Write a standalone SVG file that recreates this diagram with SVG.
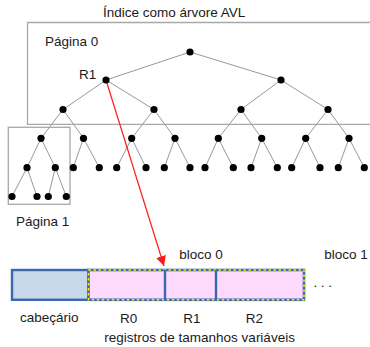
<svg xmlns="http://www.w3.org/2000/svg" width="370" height="347" viewBox="0 0 370 347">
<style>
text{font-family:"Liberation Sans",Arial,sans-serif;font-size:13.5px;fill:#1a1a1a}
.e{stroke:#999;stroke-width:1;fill:none}
.n{fill:#000}
.pg{stroke:#a8a8a8;stroke-width:1.3;fill:none}
.blk{stroke:#3a67ad;stroke-width:2.4}
</style>
<defs>
<marker id="ah" markerWidth="10" markerHeight="12" refX="10" refY="5" orient="auto" markerUnits="userSpaceOnUse" viewBox="0 0 10 10">
<path d="M0,0 L10,5 L0,10 Z" fill="#ff1a1a"/>
</marker>
</defs>
<rect width="370" height="347" fill="#fff"/>
<text x="103" y="17.3">Índice como árvore AVL</text>
<g id="pagina0">
<path class="pg" d="M372,22.5 H27.5 V124.3 H372"/>
<text x="45" y="46">Página 0</text>
</g>
<g id="pagina1">
<rect class="pg" x="8.3" y="127.3" width="61.7" height="77"/>
<text x="16" y="226">Página 1</text>
</g>
<g id="connectors">
<path class="e" d="M190,52 L106,80 M190,52 L281,80
M106,80 L63,109.5 M106,80 L154,109.5 M281,80 L241,109.5 M281,80 L328,109.5
M63,109.5 L41,138.3 M63,109.5 L83.5,138.3 M154,109.5 L131.7,138.3 M154,109.5 L175,138.3
M241,109.5 L218.3,138.3 M241,109.5 L261.7,138.3 M328,109.5 L305.7,138.3 M328,109.5 L349,138.3
M41,138.3 L27,167.7 M41,138.3 L55.3,167.7 M83.5,138.3 L73.3,167.7 M83.5,138.3 L99.3,167.7
M131.7,138.3 L116.7,167.7 M131.7,138.3 L146,167.7 M175,138.3 L164.3,167.7 M175,138.3 L190,167.7
M218.3,138.3 L205,167.7 M218.3,138.3 L233.3,167.7 M261.7,138.3 L251,167.7 M261.7,138.3 L277.3,167.7
M305.7,138.3 L291.7,167.7 M305.7,138.3 L320,167.7 M349,138.3 L338.3,167.7 M349,138.3 L364.3,167.7
M27,167.7 L12,196.5 M27,167.7 L37,196.5 M55.3,167.7 L48.3,196.5 M55.3,167.7 L66.3,196.5"/>
<line x1="106" y1="80" x2="164" y2="266" stroke="#ff1a1a" stroke-width="1.2" marker-end="url(#ah)"/>
</g>
<g id="nodes" class="n">
<circle cx="190" cy="52" r="3.6"/>
<circle cx="106" cy="80" r="3.6"/>
<circle cx="281" cy="80" r="3.6"/>
<circle cx="63" cy="109.5" r="3.6"/>
<circle cx="154" cy="109.5" r="3.6"/>
<circle cx="241" cy="109.5" r="3.6"/>
<circle cx="328" cy="109.5" r="3.6"/>
<circle cx="41" cy="138.3" r="3.6"/>
<circle cx="83.5" cy="138.3" r="3.6"/>
<circle cx="131.7" cy="138.3" r="3.6"/>
<circle cx="175" cy="138.3" r="3.6"/>
<circle cx="218.3" cy="138.3" r="3.6"/>
<circle cx="261.7" cy="138.3" r="3.6"/>
<circle cx="305.7" cy="138.3" r="3.6"/>
<circle cx="349" cy="138.3" r="3.6"/>
<circle cx="27" cy="167.7" r="3.6"/>
<circle cx="55.3" cy="167.7" r="3.6"/>
<circle cx="73.3" cy="167.7" r="3.6"/>
<circle cx="99.3" cy="167.7" r="3.6"/>
<circle cx="116.7" cy="167.7" r="3.6"/>
<circle cx="146" cy="167.7" r="3.6"/>
<circle cx="164.3" cy="167.7" r="3.6"/>
<circle cx="190" cy="167.7" r="3.6"/>
<circle cx="205" cy="167.7" r="3.6"/>
<circle cx="233.3" cy="167.7" r="3.6"/>
<circle cx="251" cy="167.7" r="3.6"/>
<circle cx="277.3" cy="167.7" r="3.6"/>
<circle cx="291.7" cy="167.7" r="3.6"/>
<circle cx="320" cy="167.7" r="3.6"/>
<circle cx="338.3" cy="167.7" r="3.6"/>
<circle cx="364.3" cy="167.7" r="3.6"/>
<circle cx="12" cy="196.5" r="3.6"/>
<circle cx="37" cy="196.5" r="3.6"/>
<circle cx="48.3" cy="196.5" r="3.6"/>
<circle cx="66.3" cy="196.5" r="3.6"/>
</g>
<text x="79" y="79.3">R1</text>
<g id="cabecario">
<rect class="blk" x="12" y="270" width="76.5" height="29.8" fill="#c6d8ea"/>
<text x="20" y="322">cabeçário</text>
</g>
<g id="bloco0">
<rect x="88.5" y="270" width="215.5" height="29.8" fill="#ffdaff" stroke="#3a67ad" stroke-width="2.6"/>
<rect x="88.5" y="270" width="215.5" height="29.8" fill="none" stroke="#ffee00" stroke-width="1.5" stroke-dasharray="2.5 2.5"/>
<line class="blk" x1="165" y1="270" x2="165" y2="299.8"/>
<line class="blk" x1="216" y1="270" x2="216" y2="299.8"/>
<text x="179.3" y="259.3">bloco 0</text>
<text x="120" y="323.3">R0</text>
<text x="183.3" y="323.3">R1</text>
<text x="245.7" y="323.3">R2</text>
</g>
<text x="324.3" y="259.3">bloco 1</text>
<text x="313.5" y="286.5" letter-spacing="3.6">...</text>
<text x="104.3" y="342.3">registros de tamanhos variáveis</text>
</svg>
